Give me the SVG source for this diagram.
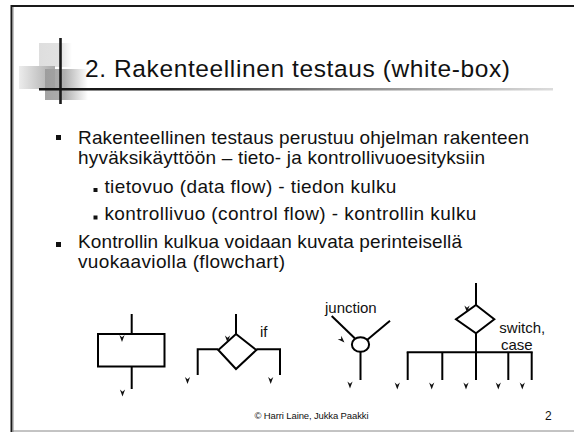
<svg xmlns="http://www.w3.org/2000/svg" width="574" height="432" viewBox="0 0 574 432">
  <style>
    .txt { font-family: "Liberation Sans", Arial, sans-serif; fill: #111; }
    .body { font-size: 19px; }
    .lbl { font-size: 15px; }
    .ln { fill: none; stroke: #000; stroke-width: 2; stroke-linecap: butt; }
    .bul { fill: #111; }
    .ah { fill: #111; }
  </style>
  <defs>
    <!-- small notched arrowhead, tip pointing down, base at origin -->
    <path id="ah" d="M-2.6,0 L0,2.2 L2.6,0 L0,7 Z"/>
    <linearGradient id="gA" x1="0" y1="0" x2="1" y2="0">
      <stop offset="0" stop-color="#dedede"/>
      <stop offset="0.65" stop-color="#e2e2e2"/>
      <stop offset="1" stop-color="#ffffff"/>
    </linearGradient>
    <linearGradient id="gB" x1="0" y1="0" x2="1" y2="0">
      <stop offset="0" stop-color="#ececec"/>
      <stop offset="1" stop-color="#a9a9a9"/>
    </linearGradient>
    <linearGradient id="gC" x1="0" y1="0" x2="1" y2="0">
      <stop offset="0" stop-color="#9a9a9a"/>
      <stop offset="0.45" stop-color="#a6a6a6"/>
      <stop offset="1" stop-color="#ffffff"/>
    </linearGradient>
    <linearGradient id="gRule" gradientUnits="userSpaceOnUse" x1="39" y1="0" x2="553" y2="0">
      <stop offset="0" stop-color="#111"/>
      <stop offset="0.25" stop-color="#222"/>
      <stop offset="0.6" stop-color="#888"/>
      <stop offset="1" stop-color="#dcdcdc"/>
    </linearGradient>
  </defs>

  <rect width="574" height="432" fill="#fff"/>

  <!-- slide frame -->
  <g id="frame">
    <line x1="11" y1="6" x2="574" y2="6" stroke="#1a1a1a" stroke-width="2"/>
    <line x1="11.5" y1="5" x2="11.5" y2="432" stroke="#1a1a1a" stroke-width="2"/>
    <line x1="13" y1="7" x2="13" y2="432" stroke="#888" stroke-width="1"/>
    <line x1="12" y1="431" x2="574" y2="431" stroke="#888" stroke-width="1"/>
  </g>

  <!-- title with decorative squares and rule -->
  <g id="title">
    <rect x="39" y="43" width="33" height="24" fill="url(#gA)"/>
    <rect x="19" y="66" width="36" height="23" fill="url(#gB)"/>
    <rect x="45" y="69" width="43" height="31" fill="url(#gC)" opacity="0.9"/>
    <line x1="60.5" y1="38" x2="60.5" y2="104" stroke="#1a1a1a" stroke-width="2.6"/>
    <line x1="39" y1="89.3" x2="553" y2="89.3" stroke="url(#gRule)" stroke-width="2.6"/>
    <text class="txt" x="85" y="77" font-size="24.5" textLength="425" lengthAdjust="spacing">2. Rakenteellinen testaus (white-box)</text>
  </g>

  <!-- bullet list -->
  <g id="bullets">
    <rect class="bul" x="56" y="135" width="5" height="5"/>
    <text class="txt body" x="78" y="144" textLength="451" lengthAdjust="spacing">Rakenteellinen testaus perustuu ohjelman rakenteen</text>
    <text class="txt body" x="78" y="164.3" textLength="407" lengthAdjust="spacing">hyväksikäyttöön – tieto- ja kontrollivuoesityksiin</text>
    <rect class="bul" x="93.5" y="188" width="4" height="4"/>
    <text class="txt body" x="104.4" y="192.7" textLength="292" lengthAdjust="spacing">tietovuo (data flow) - tiedon kulku</text>
    <rect class="bul" x="93.5" y="215.5" width="4" height="4"/>
    <text class="txt body" x="104.4" y="220" textLength="372" lengthAdjust="spacing">kontrollivuo (control flow) - kontrollin kulku</text>
    <rect class="bul" x="56" y="242" width="5" height="5"/>
    <text class="txt body" x="78" y="248.3" textLength="384" lengthAdjust="spacing">Kontrollin kulkua voidaan kuvata perinteisellä</text>
    <text class="txt body" x="78" y="268.3" textLength="207" lengthAdjust="spacing">vuokaaviolla (flowchart)</text>
  </g>

  <!-- flowchart symbols -->
  <g id="sequence">
    <rect class="ln" x="98" y="334" width="66.5" height="32.5"/>
  </g>
  <g id="if">
    <polygon class="ln" points="236,334 256.3,350 236,369 218.3,350"/>
    <text class="txt lbl" x="260" y="336.7">if</text>
  </g>
  <g id="junction">
    <ellipse class="ln" cx="360.5" cy="344.5" rx="8.6" ry="7.3"/>
    <text class="txt lbl" x="325" y="312.5">junction</text>
  </g>
  <g id="switch">
    <polygon class="ln" points="476,305 494.3,319.3 476,333.3 456,319.3"/>
    <text class="txt lbl" x="499.3" y="333.3">switch,</text>
    <text class="txt lbl" x="501" y="350">case</text>
  </g>

  <g id="connectors">
    <!-- sequence -->
    <line class="ln" x1="131.7" y1="314" x2="131.7" y2="334"/>
    <line class="ln" x1="131.7" y1="366.5" x2="131.7" y2="389"/>
    <use href="#ah" class="ah" x="122" y="335"/>
    <use href="#ah" class="ah" x="122.5" y="389.5"/>
    <!-- if -->
    <line class="ln" x1="236" y1="314" x2="236" y2="334"/>
    <polyline class="ln" points="218.3,349.2 197.7,349.2 197.7,375"/>
    <polyline class="ln" points="256.3,349.2 280,349.2 280,375"/>
    <use href="#ah" class="ah" x="227.5" y="335.5"/>
    <use href="#ah" class="ah" x="187.5" y="377"/>
    <use href="#ah" class="ah" x="270.7" y="377"/>
    <!-- junction -->
    <line class="ln" x1="331.7" y1="316" x2="355" y2="338.5"/>
    <line class="ln" x1="390" y1="320.7" x2="367" y2="340"/>
    <line class="ln" x1="360.5" y1="351.8" x2="360.5" y2="380"/>
    <use href="#ah" class="ah" transform="translate(339.5,337.5) rotate(-45)"/>
    <use href="#ah" class="ah" x="350" y="381.5"/>
    <!-- switch -->
    <line class="ln" x1="476" y1="283" x2="476" y2="305"/>
    <line class="ln" x1="476" y1="333.3" x2="476" y2="352.3"/>
    <line class="ln" x1="406.7" y1="352.3" x2="532.7" y2="352.3"/>
    <line class="ln" x1="407.7" y1="352.3" x2="407.7" y2="380"/>
    <line class="ln" x1="442.3" y1="352.3" x2="442.3" y2="380"/>
    <line class="ln" x1="476" y1="352.3" x2="476" y2="380"/>
    <line class="ln" x1="508.3" y1="352.3" x2="508.3" y2="380"/>
    <line class="ln" x1="531.7" y1="352.3" x2="531.7" y2="380"/>
    <use href="#ah" class="ah" x="467" y="305.5"/>
    <use href="#ah" class="ah" x="397.3" y="382.5"/>
    <use href="#ah" class="ah" x="431.7" y="382.5"/>
    <use href="#ah" class="ah" x="466" y="382.5"/>
    <use href="#ah" class="ah" x="498.3" y="382.5"/>
    <use href="#ah" class="ah" x="522.3" y="382.5"/>
  </g>

  <!-- footer -->
  <g id="footer">
    <text class="txt" x="254.5" y="419" font-size="9.5" textLength="114" lengthAdjust="spacing">© Harri Laine, Jukka Paakki</text>
    <text class="txt" x="545" y="420" font-size="12">2</text>
  </g>
</svg>
